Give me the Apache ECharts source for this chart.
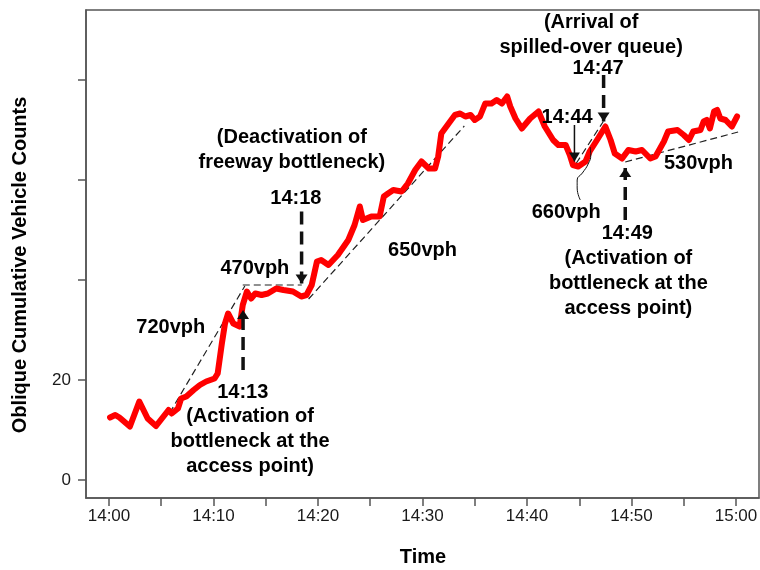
<!DOCTYPE html>
<html><head><meta charset="utf-8">
<script src="https://cdn.jsdelivr.net/npm/echarts@6/dist/echarts.min.js"></script>
<style>html,body{margin:0;padding:0;background:#fff}#c{width:760px;height:570px}</style>
</head><body><div id="c"></div>
<script>
// minutes after 14:00
const minutes = [0.1,0.6,1.0,2.0,2.9,3.7,4.5,5.7,6.0,6.6,6.9,7.4,8.1,8.7,9.3,10.1,10.4,10.8,11.1,11.4,11.9,12.5,12.8,13.2,13.6,14.0,14.6,15.2,16.0,16.7,17.6,18.4,18.9,19.4,19.9,20.3,21.0,21.9,22.9,23.5,24.0,24.3,25.1,25.9,26.3,26.7,27.2,28.0,28.6,29.3,29.9,30.6,31.2,31.5,31.8,32.5,33.1,33.6,34.1,34.6,35.0,35.5,36.0,36.6,37.1,37.6,38.1,38.4,38.9,39.5,40.3,41.1,41.7,42.5,43.0,43.7,44.1,44.4,44.9,45.6,46.0,46.7,47.5,48.0,48.4,49.1,49.7,50.4,51.0,51.8,52.3,53.1,53.5,54.4,55.0,55.5,55.9,56.6,56.9,57.2,57.5,57.9,58.2,58.5,59.0,59.6,60.1];
// oblique cumulative vehicle counts
const counts = [12.5,13.0,12.5,10.7,15.7,12.3,10.8,14.0,13.3,14.3,16.3,16.7,18.0,19.0,19.7,20.3,21.3,27.3,31.3,33.3,31.3,30.7,35.0,37.7,36.3,37.3,37.0,37.3,38.3,38.0,37.7,36.7,37.0,39.0,43.7,44.0,43.0,45.0,48.0,51.0,54.7,52.0,52.7,52.7,56.7,57.3,58.0,57.7,59.3,62.0,63.7,62.3,62.3,64.7,69.3,71.3,73.0,73.3,72.7,73.0,72.0,72.7,75.3,75.3,76.0,75.3,76.7,74.7,72.3,70.3,72.3,73.7,70.7,68.0,67.0,67.0,65.0,63.0,62.7,63.7,65.7,68.0,70.7,68.0,65.3,64.3,66.0,65.7,66.0,64.3,64.7,67.7,69.7,70.0,69.0,68.0,69.7,70.0,71.7,72.0,70.3,73.7,74.0,72.3,72.0,70.7,72.7];

// fitted flow-rate lines [minute, count]
const fit720 = [[5.8,13.4],[13.0,38.8]];
const fit470 = [[12.8,39.0],[18.45,39.0]];
const fit650 = [[19.1,36.2],[34.0,70.8]];
const fit660 = [[44.7,63.3],[47.3,71.7]];
const fit530 = [[49.4,63.6],[60.2,69.6]];

// event arrows: [minute, fromCount, tipCount]
const arrow1413 = [12.83, 22.0, 34.0];
const arrow1418 = [18.43, 53.7, 39.3];
const arrow1444 = [44.54, 71.0, 63.7];
const arrow1447 = [47.33, 81.0, 71.7];
const arrow1449 = [49.40, 52.0, 62.4];

// leader curve for the 660vph label
const leader660 = [[45.1,56.0],[44.8,58.4],[44.8,60.0],[45.3,61.4],[45.85,63.2],[46.1,65.0],[46.05,66.6]];

// annotation texts: [minute, count, text]
const notes = [
  [17.5, 66.1, '(Deactivation of\nfreeway bottleneck)'],
  [17.88, 56.4, '14:18'],
  [13.96, 42.4, '470vph'],
  [5.91, 30.6, '720vph'],
  [12.8, 17.6, '14:13'],
  [13.5, 7.8, '(Activation of\nbottleneck at the\naccess point)'],
  [30.0, 46.0, '650vph'],
  [46.14, 89.1, '(Arrival of\nspilled-over queue)'],
  [46.8, 82.4, '14:47'],
  [43.84, 72.6, '14:44'],
  [43.75, 53.6, '660vph'],
  [49.6, 49.4, '14:49'],
  [49.7, 39.4, '(Activation of\nbottleneck at the\naccess point)'],
  [56.4, 63.4, '530vph']
];

const xTicks = [0,5,10,15,20,25,30,35,40,45,50,55,60];
const xLabels = [0,10,20,30,40,50,60];
const yTicks = [0,20,40,60,80];
const yLabels = [0,20];

const FONT = 'Liberation Sans, Arial, sans-serif';
const INK = '#000';

function fmtTime(v){
  const m = Math.round(v);
  if (m >= 60) return '15:' + String(m-60).padStart(2,'0');
  return '14:' + String(m).padStart(2,'0');
}

const series = [];
function dashed(data){
  series.push({type:'line', data, symbol:'none', silent:true, z:2,
    lineStyle:{color:'#222', width:1.2, type:[7,4]}});
}
[fit720, fit470, fit650, fit660, fit530].forEach(dashed);

function arrow(a, solid){
  const up = a[2] > a[1];
  series.push({type:'line', data:[[a[0],a[1]],[a[0],a[2]]], symbol:'none', silent:true, z:4,
    lineStyle: solid ? {color:'#111', width:1.5} : {color:'#111', width:3.5, type:[13,7]}});
  const h = 9, w = solid ? 11 : 12;
  series.push({type:'scatter', data:[[a[0],a[2]]], symbol:'triangle', symbolSize:[w,h],
    symbolRotate: up ? 0 : 180, symbolOffset:[0, up ? h/2 : -h/2], silent:true, z:5,
    itemStyle:{color:'#111', opacity:1}});
}
arrow(arrow1413,false); arrow(arrow1418,false); arrow(arrow1444,true); arrow(arrow1447,false); arrow(arrow1449,false);

series.push({type:'line', data:leader660, smooth:true, symbol:'none', silent:true, z:4,
  lineStyle:{color:'#111', width:1}});

series.push({type:'line', data: minutes.map((m,i)=>[m, counts[i]]), symbol:'none', z:3,
  lineStyle:{color:'#ff0000', width:6, cap:'round', join:'round'}});

series.push({type:'scatter', symbolSize:0, z:6, silent:true, itemStyle:{color:'#000', opacity:1},
  data: notes.map(n=>({value:[n[0],n[1]], name:n[2]})),
  label:{show:true, position:[0,0], formatter:p=>p.name, color:INK, opacity:1, textBorderWidth:0,
    fontFamily:FONT, fontWeight:'bold', fontSize:20, lineHeight:25, align:'center', verticalAlign:'middle'}});

const chart = echarts.init(document.getElementById('c'), null, {renderer:'canvas'});
chart.setOption({
  animation:false,
  backgroundColor:'#fff',
  grid:{left:86, right:1, top:10, bottom:72, show:true, borderColor:'#555', borderWidth:1.5, outerBoundsMode:'none'},
  xAxis:{type:'value', min:-2.2, max:62.2,
    axisLine:{show:true, onZero:false, lineStyle:{color:'#555', width:1.5}},
    axisTick:{show:true, customValues:xTicks, length:8, inside:false, lineStyle:{color:'#555', width:1.5}},
    axisLabel:{customValues:xLabels, formatter:fmtTime, margin:10, color:'#1a1a1a', fontSize:17, fontFamily:FONT},
    splitLine:{show:false}},
  yAxis:{type:'value', min:-3.6, max:94,
    axisLine:{show:true, onZero:false, lineStyle:{color:'#555', width:1.5}},
    axisTick:{show:true, customValues:yTicks, length:8, lineStyle:{color:'#555', width:1.5}},
    axisLabel:{customValues:yLabels, margin:15, color:'#1a1a1a', fontSize:17, fontFamily:FONT},
    splitLine:{show:false}},
  graphic:[
    {type:'text', x:423, y:557, style:{text:'Time', font:'bold 20px '+FONT, fill:INK, align:'center', verticalAlign:'middle'}},
    {type:'text', x:20, y:265, rotation:Math.PI/2, style:{text:'Oblique Cumulative Vehicle Counts', font:'bold 20px '+FONT, fill:INK, align:'center', verticalAlign:'middle'}}
  ],
  series
});
</script></body></html>
